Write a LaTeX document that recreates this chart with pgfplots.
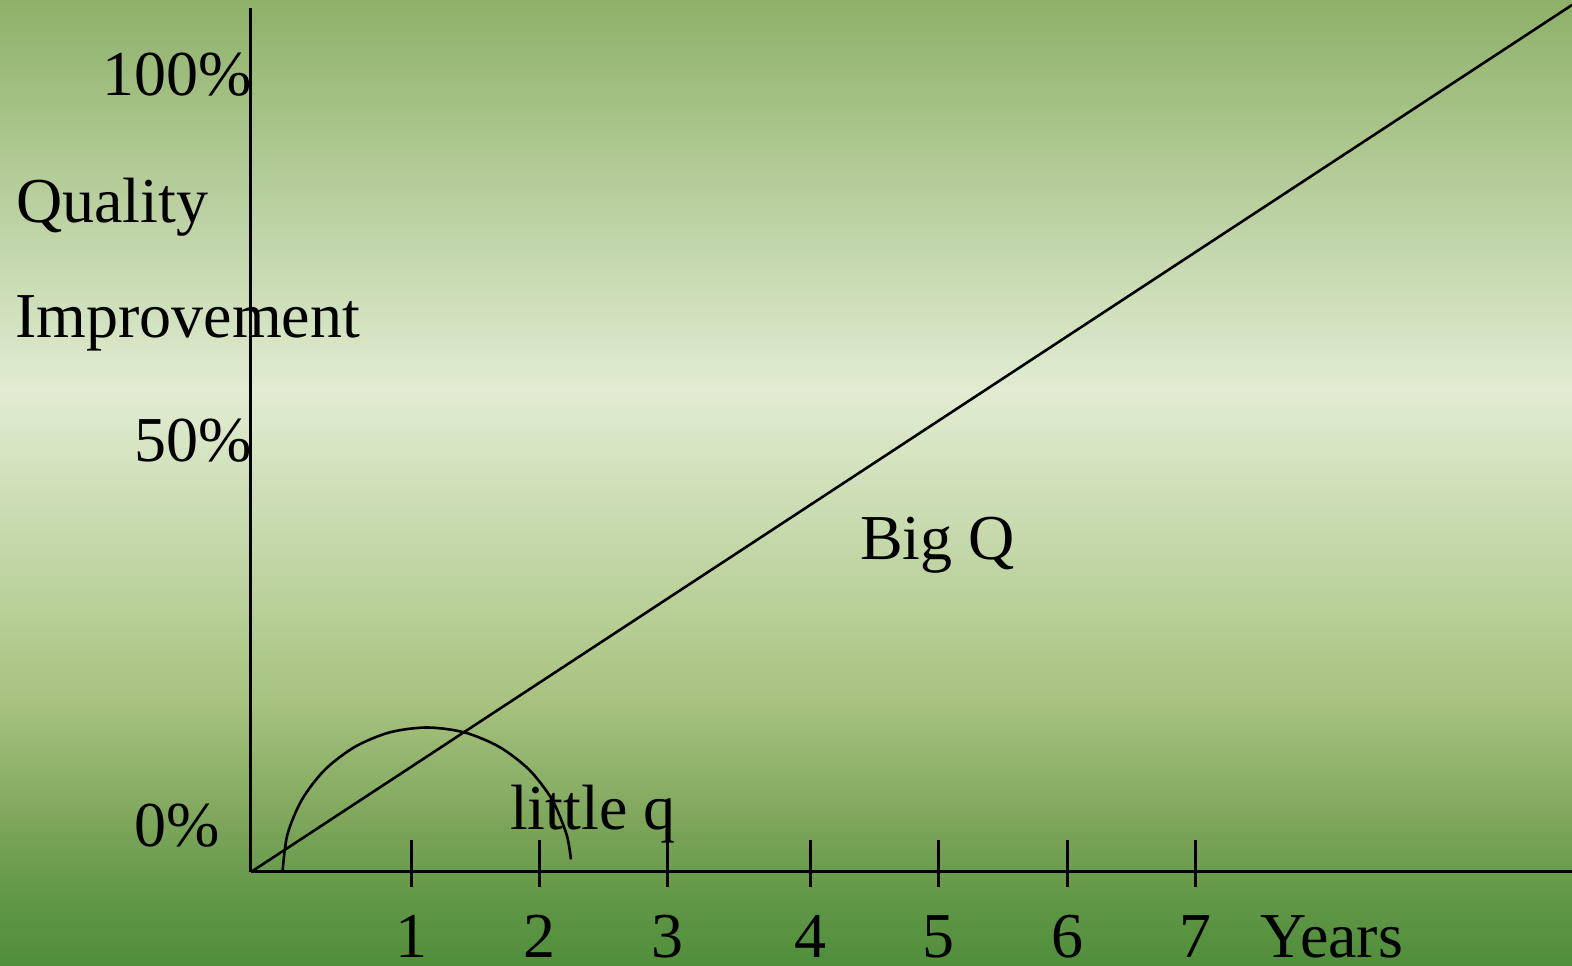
\documentclass[border=0pt]{standalone}
\usepackage{fontspec}
\setmainfont{Liberation Serif}
\usepackage{pgfplots}
\pgfplotsset{compat=1.18}
\definecolor{bgtop}{RGB}{142,177,104}
\definecolor{bgmid}{RGB}{225,236,210}
\definecolor{bgl1}{RGB}{168,195,128}
\definecolor{bgl2}{RGB}{122,164,88}
\definecolor{bgl3}{RGB}{96,151,70}
\definecolor{bgbot}{RGB}{80,142,58}
\pgfdeclareverticalshading{slidebg}{100bp}{%
 color(0bp)=(bgbot); color(25bp)=(bgbot); color(28.4bp)=(bgl3);
 color(32bp)=(bgl2); color(38.8bp)=(bgl1); color(54.8bp)=(bgmid);
 color(75bp)=(bgtop); color(100bp)=(bgtop)}
\newcommand{\slidefont}{\fontsize{64}{70}\selectfont}
\begin{document}
\begin{tikzpicture}
\useasboundingbox (0,0) rectangle (1572pt,966pt);
\shade[shading=slidebg] (0,0) rectangle (1572pt,966pt);
\begin{axis}[
  at={(251pt,94pt)}, anchor=south west,
  scale only axis, width=1321pt, height=864pt,
  xmin=251, xmax=1572, ymin=94, ymax=958,
  axis x line=bottom, axis y line=left,
  axis line style={-, line width=3pt, black},
  clip=false,
  xtick={411,539,667,810,938,1067,1195},
  xticklabels={1,2,3,4,5,6,7},
  xtick align=inside,
  major tick length=47pt,
  x tick style={line width=3pt, black, yshift=-15pt},
  xticklabel style={font=\slidefont, anchor=base, yshift=-86pt, inner sep=0pt},
  ytick={119,504,870},
  yticklabels={0\%\hphantom{0},50\%,100\%},
  y tick style={draw=none},
  yticklabel style={font=\slidefont, anchor=base east, inner sep=0pt, xshift=25pt},
  /pgf/number format/assume math mode=true,
]
\addplot[black, line width=2.6pt] coordinates {(251,94) (1572,961)};
\addplot[black, line width=2.6pt, smooth] coordinates {
 (282.5,94) (287.4,131.4) (301.9,166.3) (324.8,196.2) (354.8,219.1)
 (389.6,233.6) (427,238.5) (464.4,233.6) (499.3,219.1) (529.2,196.2)
 (552.1,166.3) (566.6,131.4) (570.9,106.6)};
\node[font=\slidefont, anchor=base west, inner sep=0pt] at (axis cs:16,743) {Quality};
\node[font=\slidefont, anchor=base west, inner sep=0pt] at (axis cs:15,628) {Improvement};
\node[font=\slidefont, anchor=base west, inner sep=0pt] at (axis cs:860,406) {Big Q};
\node[font=\slidefont, anchor=base west, inner sep=0pt] at (axis cs:510,136) {little q};
\node[font=\slidefont, anchor=base west, inner sep=0pt] at (axis cs:1260,8) {Years};
\end{axis}
\end{tikzpicture}
\end{document}
